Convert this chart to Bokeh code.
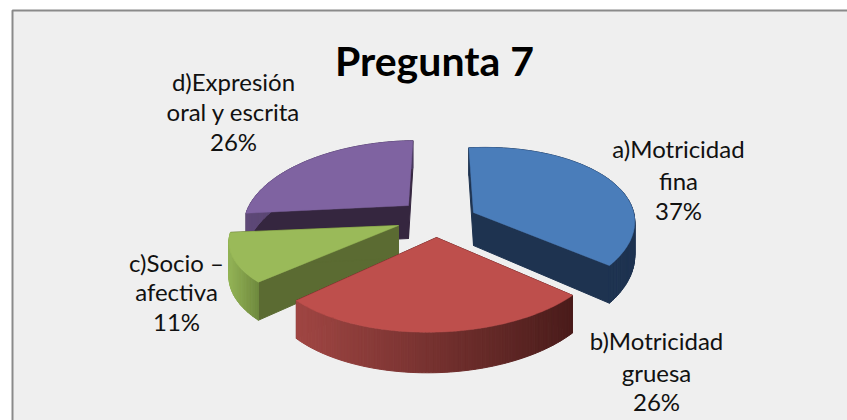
import math
from bokeh.embed import file_html
from bokeh.resources import INLINE
from bokeh.models import ColumnDataSource, Range1d
from bokeh.plotting import figure
from bokeh.core.properties import value

title = "Pregunta 7"
categories = ["a)Motricidad fina", "b)Motricidad gruesa", "c)Socio – afectiva", "d)Expresión oral y escrita"]
percent = [37, 26, 11, 26]

label_lines = [["a)Motricidad", "fina", "37%"], ["b)Motricidad", "gruesa", "26%"],
               ["c)Socio –", "afectiva", "11%"], ["d)Expresión", "oral y escrita", "26%"]]

top_colors = ["#4a7dba", "#be4f4c", "#9aba59", "#7f63a1"]
cut_colors = ["#1e3350", "#5a1f1e", "#5b6b32", "#35263f"]
wall_from = ["#1e3350", "#a04643", "#93b356", "#5f4a78"]
wall_to = ["#1e3350", "#4a1c1b", "#6f8a3e", "#4a3a60"]

# layout (pixels): where each exploded slice's tip sits, and the pie's projection
tips = [(473, 212), (436, 237), (398, 225), (408, 205)]
RX, RY, PERSP, DEPTH = 165, 77, 0.187, 33
START = -2.0
# per-slice corrections for the original's off-axis perspective
x_scale = [0.96, 1.0, 1.0, 0.965]
y_scale = [1.0, 1.0, 0.9, 1.0]
x_skew = [0.0, 0.045, 0.045, 0.065]
y_shear = [-0.035, 0.0, 0.0, 0.0]
LABEL_X = [678, 656, 176, 233]
LABEL_Y = [[148, 180, 210], [340, 372, 401], [262, 291, 321], [81, 111, 141]]


def project(i, deg, r=1.0, z=0.0):
    a = math.radians(deg)
    x, y = r * math.sin(a), -r * math.cos(a)
    s = 1 / (1 - PERSP * y)
    dx = RX * s * (x * x_scale[i] - x_skew[i] * y)
    dy = (RY * y * y_scale[i] + z) * s + y_shear[i] * dx
    return tips[i][0] + dx, tips[i][1] + dy


def mix(c1, c2, t):
    v1 = [int(c1[i:i + 2], 16) for i in (1, 3, 5)]
    v2 = [int(c2[i:i + 2], 16) for i in (1, 3, 5)]
    return "#%02x%02x%02x" % tuple(round(a + (b - a) * t) for a, b in zip(v1, v2))


p = figure(width=847, height=420, output_backend="svg", toolbar_location=None,
           x_range=Range1d(0, 847), y_range=Range1d(420, 0),
           min_border=0, outline_line_color=None, background_fill_color="#ffffff",
           border_fill_color="#ffffff")
p.axis.visible = False
p.grid.visible = False

p.quad(left=[12], right=[900], top=[10], bottom=[500], fill_color="#efefef",
       line_color="#8a8a8a", line_width=2)

total = sum(percent)
spans = []
angle = START
for v in percent:
    spans.append((angle, angle + 360 * v / total))
    angle += 360 * v / total

for i in [3, 0, 2, 1]:
    a0, a1 = spans[i]
    steps = max(8, int(a1 - a0))
    angles = [a0 + (a1 - a0) * k / steps for k in range(steps + 1)]
    xs, ys, cols = [], [], []
    for deg in (a0, a1):
        q = [project(i, deg, 0), project(i, deg), project(i, deg, 1, DEPTH), project(i, deg, 0, DEPTH)]
        xs.append([c[0] for c in q])
        ys.append([c[1] for c in q])
        cols.append(cut_colors[i])
    rim_x = [project(i, d)[0] for d in angles]
    lo, hi = min(rim_x), max(rim_x)
    for d0, d1 in zip(angles[:-1], angles[1:]):
        q = [project(i, d0), project(i, d1), project(i, d1, 1, DEPTH), project(i, d0, 1, DEPTH)]
        xs.append([c[0] for c in q])
        ys.append([c[1] for c in q])
        cols.append(mix(wall_from[i], wall_to[i], ((q[0][0] + q[1][0]) / 2 - lo) / (hi - lo)))
    src = ColumnDataSource(dict(xs=xs, ys=ys, color=cols))
    p.patches("xs", "ys", source=src, fill_color="color", line_color="color", line_width=1)
    top = [project(i, 0, 0)] + [project(i, d) for d in angles]
    p.patch([c[0] for c in top], [c[1] for c in top], fill_color=top_colors[i],
            line_color=top_colors[i], line_width=0.5)

for i, lines in enumerate(label_lines):
    p.text([LABEL_X[i]] * 3, LABEL_Y[i], text=lines, text_align="center", text_baseline="middle",
           text_font=value("Lato"), text_font_size="24px", text_color="#111111")

p.text([434], [60], text=[title], text_align="center", text_baseline="middle",
       text_font=value("Lato"), text_font_style="bold", text_font_size="41px", text_color="#000000")

open("out.html", "w").write(file_html(p, INLINE))
